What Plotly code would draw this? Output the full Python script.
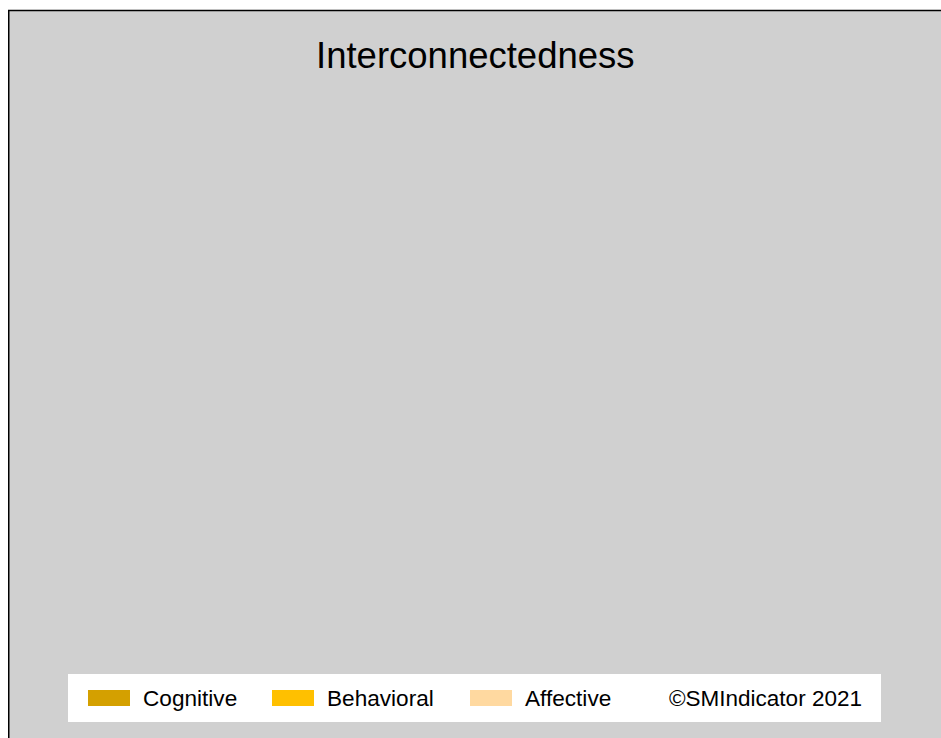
import plotly.graph_objects as go

# ---- data ----
title_text = "Interconnectedness"
series_names = ["Cognitive", "Behavioral", "Affective"]
series_colors = ["#D4A000", "#FFC000", "#FFD9A0"]
series_values = [[], [], []]   # chart contains no plotted values
credit_text = "©SMIndicator 2021"

W, H = 941, 738
FONT = "Liberation Sans, Arial, sans-serif"

fig = go.Figure()
for name, color, vals in zip(series_names, series_colors, series_values):
    fig.add_trace(go.Bar(x=list(range(len(vals))), y=vals, name=name,
                         marker_color=color, showlegend=False))

shapes = []
annotations = []
# outer panel
shapes.append(dict(type="rect", xref="x", yref="y", x0=8.75, y0=10.5, x1=W + 5, y1=H + 5,
                   fillcolor="#D0D0D0", line=dict(color="#000000", width=1.5), layer="below"))
# legend box
shapes.append(dict(type="rect", xref="x", yref="y", x0=68, y0=674, x1=881, y1=722,
                   fillcolor="#FFFFFF", line=dict(width=0), layer="below"))

swatch_x = [88, 272, 470]
for name, color, sx in zip(series_names, series_colors, swatch_x):
    shapes.append(dict(type="rect", xref="x", yref="y", x0=sx, y0=690, x1=sx + 42, y1=706,
                       fillcolor=color, line=dict(width=0)))
    annotations.append(dict(x=sx + 53, y=698, xref="x", yref="y", text=name,
                            showarrow=False, xanchor="left", yanchor="middle",
                            font=dict(family=FONT, size=22.6, color="#000000")))
annotations.append(dict(x=667, y=698, xref="x", yref="y", text=credit_text,
                        showarrow=False, xanchor="left", yanchor="middle",
                        font=dict(family=FONT, size=22.5, color="#000000")))
annotations.append(dict(x=475.5, y=55, xref="x", yref="y", text=title_text,
                        showarrow=False, xanchor="center", yanchor="middle",
                        font=dict(family=FONT, size=36.5, color="#000000")))

fig.update_layout(
    width=W, height=H,
    margin=dict(l=0, r=0, t=0, b=0),
    paper_bgcolor="#FFFFFF",
    plot_bgcolor="rgba(0,0,0,0)",
    xaxis=dict(range=[0, W], visible=False, fixedrange=True),
    yaxis=dict(range=[H, 0], visible=False, fixedrange=True),
    shapes=shapes,
    annotations=annotations,
    showlegend=False,
)

fig.write_html(
    "out.html",
    config={"displayModeBar": False, "staticPlot": True},
    post_script="document.body.style.margin='0';document.body.style.overflow='hidden';",
)
